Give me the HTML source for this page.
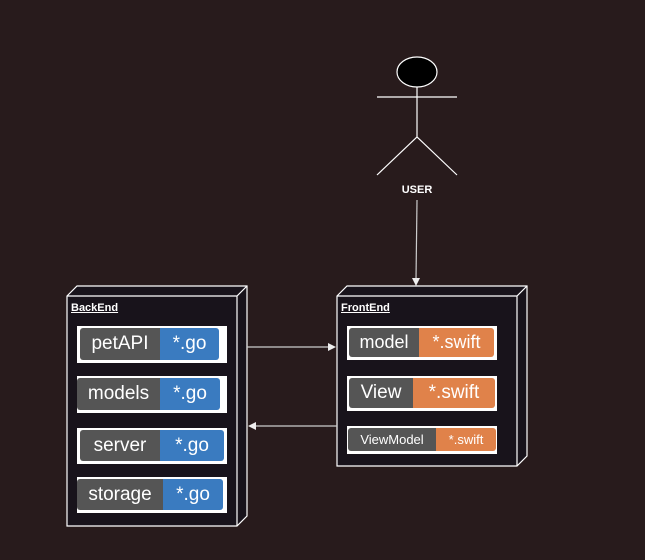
<!DOCTYPE html>
<html><head><style>
body{margin:0;background:#281b1c;width:645px;height:560px;overflow:hidden;font-family:"Liberation Sans",sans-serif}
.w{position:absolute;background:#fff}
.b{position:absolute;height:calc(100% - 5px);top:2px;display:flex;border-radius:3px;overflow:hidden;color:#fff}
.b span{display:flex;align-items:center;justify-content:center}
.g{background:#555}
.bl{background:#3a7bc0}
.o{background:#e0824a}
.lbl{position:absolute;color:#fff;font-size:11px;font-weight:bold;text-decoration:underline}
</style></head><body>
<svg width="645" height="560" style="position:absolute;left:0;top:0">
<g stroke="#fff" stroke-width="1.2" fill="#18131b">
<path d="M67 296 L77 286 L247 286 L247 516 L237 526 L67 526 Z"/>
<path d="M67 296 L237 296 L247 286 M237 296 L237 526" fill="none"/>
<path d="M337 296 L347 286 L527 286 L527 456 L517 466 L337 466 Z"/>
<path d="M337 296 L517 296 L527 286 M517 296 L517 466" fill="none"/>
</g>
<g stroke="#fff" stroke-width="1.2" fill="none">
<ellipse cx="417" cy="72" rx="20" ry="15" fill="#000"/>
<path d="M417 87 L417 137 M377 97 L457 97 M377 175 L417 137 L457 175"/>
<path d="M417 200 L416 280" stroke="#ccc"/>
<path d="M247 347 L330 347" stroke="#ccc"/>
<path d="M337 426 L254 426" stroke="#ccc"/>
</g>
<g fill="#eee">
<path d="M416 286 L412 278 L420 278 Z"/>
<path d="M336 347 L328 343 L328 351 Z"/>
<path d="M248 426 L256 422 L256 430 Z"/>
</g>
<text x="417" y="193" fill="#fff" font-size="11" font-weight="bold" text-anchor="middle" font-family="Liberation Sans">USER</text>
</svg>
<div class="lbl" style="left:71px;top:302px">BackEnd</div>
<div class="lbl" style="left:341px;top:302px">FrontEnd</div>

<div class="w" style="left:77px;top:326px;width:150px;height:37px"><div class="b" style="left:3px;font-size:19px"><span class="g" style="width:80px">petAPI</span><span class="bl" style="width:59px">*.go</span></div></div>
<div class="w" style="left:77px;top:376px;width:150px;height:37px"><div class="b" style="left:0;font-size:19px"><span class="g" style="width:83px">models</span><span class="bl" style="width:60px">*.go</span></div></div>
<div class="w" style="left:77px;top:428px;width:150px;height:36px"><div class="b" style="left:3px;font-size:19px"><span class="g" style="width:80px">server</span><span class="bl" style="width:64px">*.go</span></div></div>
<div class="w" style="left:77px;top:477px;width:150px;height:36px"><div class="b" style="left:0;font-size:19px"><span class="g" style="width:86px">storage</span><span class="bl" style="width:60px">*.go</span></div></div>

<div class="w" style="left:347px;top:326px;width:150px;height:34px"><div class="b" style="left:2px;font-size:18px"><span class="g" style="width:70px">model</span><span class="o" style="width:75px">*.swift</span></div></div>
<div class="w" style="left:347px;top:376px;width:150px;height:35px"><div class="b" style="left:2px;font-size:19px"><span class="g" style="width:64px">View</span><span class="o" style="width:82px">*.swift</span></div></div>
<div class="w" style="left:347px;top:426px;width:150px;height:28px"><div class="b" style="left:1px;font-size:13px"><span class="g" style="width:88px">ViewModel</span><span class="o" style="width:60px">*.swift</span></div></div>
</body></html>
